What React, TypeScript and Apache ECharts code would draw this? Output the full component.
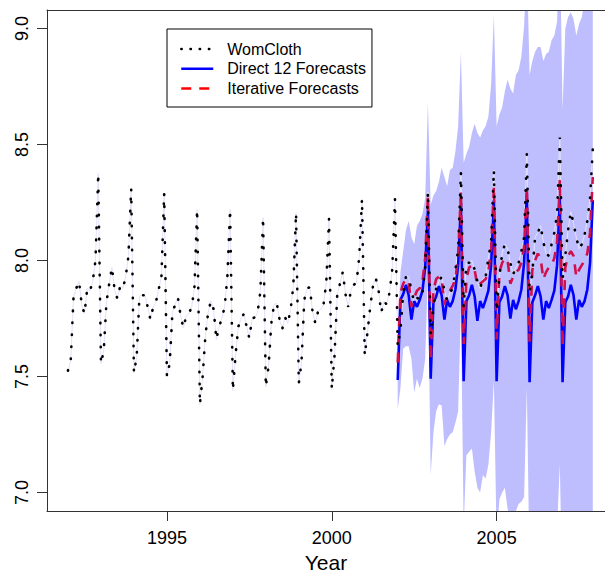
import React, { useEffect, useRef } from "react";
import * as echarts from "echarts";

const START_YEAR = 1992;
const FORECAST_START = 2002;

// monthly log values, Jan 1992 .. Dec 2007
const womCloth = [
  7.525, 7.57, 7.84, 7.88, 7.91, 7.81, 7.77, 7.88, 7.87, 7.91, 8.0, 8.375,
  7.555, 7.61, 7.82, 7.9, 7.97, 7.87, 7.835, 7.89, 7.88, 7.93, 8.02, 8.31,
  7.515, 7.585, 7.845, 7.85, 7.85, 7.8, 7.745, 7.8, 7.82, 7.875, 7.93, 8.29,
  7.5, 7.555, 7.775, 7.81, 7.84, 7.76, 7.71, 7.76, 7.77, 7.8, 7.88, 8.22,
  7.38, 7.5, 7.675, 7.775, 7.825, 7.79, 7.66, 7.715, 7.75, 7.8, 7.93, 8.22,
  7.44, 7.595, 7.715, 7.75, 7.77, 7.715, 7.665, 7.75, 7.755, 7.775, 7.865, 8.185,
  7.455, 7.545, 7.73, 7.81, 7.815, 7.745, 7.705, 7.755, 7.73, 7.785, 7.89, 8.205,
  7.47, 7.565, 7.83, 7.88, 7.885, 7.78, 7.73, 7.78, 7.79, 7.81, 7.905, 8.18,
  7.445, 7.59, 7.855, 7.9, 7.95, 7.855, 7.8, 7.875, 7.895, 7.905, 8.015, 8.265,
  7.59, 7.69, 7.8, 7.89, 7.925, 7.875, 7.775, 7.825, 7.81, 7.86, 7.96, 8.265,
  7.63, 7.7, 7.86, 7.93, 7.93, 7.87, 7.82, 7.84, 7.83, 7.86, 7.97, 8.295,
  7.68, 7.8, 7.88, 7.91, 7.93, 7.87, 7.83, 7.86, 7.88, 7.96, 8.05, 8.38,
  7.8, 7.99, 7.99, 8.0, 7.96, 7.91, 7.88, 7.92, 7.93, 8.01, 8.08, 8.39,
  7.78, 7.93, 8.03, 8.07, 8.05, 7.99, 7.94, 7.97, 7.99, 8.04, 8.1, 8.46,
  7.86, 7.95, 8.1, 8.12, 8.15, 8.08, 8.03, 8.02, 8.07, 8.12, 8.2, 8.53,
  7.92, 8.02, 8.13, 8.21, 8.16, 8.1, 8.05, 8.07, 8.11, 8.17, 8.27, 8.48,
];

// forecasts, Jan 2002 .. Dec 2007
const direct12 = [
  7.485, 7.83, 7.855, 7.895, 7.85, 7.745, 7.825, 7.8, 7.83, 7.87, 7.97, 8.22,
  7.49, 7.82, 7.845, 7.89, 7.85, 7.745, 7.83, 7.8, 7.825, 7.875, 7.98, 8.25,
  7.48, 7.825, 7.85, 7.895, 7.845, 7.74, 7.825, 7.795, 7.83, 7.87, 7.98, 8.26,
  7.48, 7.82, 7.845, 7.89, 7.85, 7.75, 7.83, 7.79, 7.825, 7.875, 7.99, 8.29,
  7.475, 7.82, 7.85, 7.89, 7.845, 7.745, 7.825, 7.795, 7.83, 7.87, 7.98, 8.27,
  7.475, 7.82, 7.845, 7.895, 7.85, 7.745, 7.83, 7.8, 7.825, 7.875, 7.99, 8.26,
];

const iterative = [
  7.56, 7.86, 7.9, 7.92, 7.91, 7.8, 7.84, 7.87, 7.88, 7.91, 8.01, 8.28,
  7.57, 7.87, 7.92, 7.93, 7.92, 7.81, 7.85, 7.87, 7.89, 7.92, 8.02, 8.3,
  7.64, 7.92, 7.97, 7.98, 7.96, 7.89, 7.9, 7.91, 7.92, 7.95, 8.05, 8.32,
  7.66, 7.95, 7.99, 8.01, 8.0, 7.9, 7.93, 7.95, 7.96, 7.99, 8.06, 8.32,
  7.65, 7.96, 8.0, 8.03, 8.01, 7.92, 7.95, 7.97, 7.98, 8.01, 8.08, 8.35,
  7.63, 7.97, 8.02, 8.04, 8.02, 7.93, 7.96, 7.98, 8.0, 8.03, 8.12, 8.36,
];

const bandUpper = [
  7.7, 7.95, 8.04, 8.13, 8.17, 8.1, 8.07, 8.15, 8.17, 8.2, 8.27, 8.68,
  8.24, 8.28, 8.3, 8.34, 8.4, 8.36, 8.32, 8.39, 8.4, 8.47, 8.58, 8.9,
  8.42, 8.46, 8.49, 8.55, 8.59, 8.55, 8.53, 8.56, 8.58, 8.62, 8.76, 9.06,
  8.58, 8.63, 8.66, 8.73, 8.78, 8.74, 8.72, 8.8, 8.82, 8.88, 9.01, 9.3,
  8.8, 8.86, 8.9, 8.92, 8.92, 8.86, 8.89, 8.9, 8.95, 8.97, 9.03, 9.4,
  8.65, 9.0, 9.05, 9.07, 9.04, 8.97, 9.02, 9.05, 9.12, 9.15, 9.2, 9.5,
];

const bandLower = [
  7.36, 7.45, 7.62, 7.63, 7.63, 7.575, 7.43, 7.49, 7.45, 7.49, 7.575, 7.95,
  7.075, 7.26, 7.35, 7.38, 7.375, 7.2, 7.23, 7.25, 7.26, 7.3, 7.35, 7.8,
  6.85, 7.16, 7.175, 7.19, 7.09, 7.02, 7.0, 7.075, 7.06, 7.12, 7.26, 7.48,
  6.8, 6.97, 7.0, 7.02, 6.93, 6.88, 6.86, 6.92, 6.95, 6.96, 6.98, 7.45,
  6.65, 6.8, 6.82, 6.84, 6.78, 6.72, 6.7, 6.75, 6.78, 6.8, 6.85, 7.12,
  6.5, 6.65, 6.68, 6.7, 6.62, 6.55, 6.52, 6.58, 6.6, 6.62, 6.7, 6.9,
];

const xTicks = [1995, 2000, 2005];
const yTicks = [7.0, 7.5, 8.0, 8.5, 9.0];

const FONT = "'Liberation Sans', Arial, Helvetica, sans-serif";

export default function App() {
  const ref = useRef<HTMLDivElement>(null);

  useEffect(() => {
    document.body.style.margin = "0";
    const chart = echarts.init(ref.current as HTMLDivElement, null, { renderer: "svg" });
    const at = (start: number, i: number) => start + i / 12;
    const wom = womCloth.map((v, i) => [at(START_YEAR, i), v]);
    const dir = direct12.map((v, i) => [at(FORECAST_START, i), v]);
    const itr = iterative.map((v, i) => [at(FORECAST_START, i), v]);
    const band = bandLower.map((v, i) => [at(FORECAST_START, i), v, bandUpper[i]]);

    // the frame is cut by the right edge of the picture
    const xMin = 1991.363;
    const xMax = 2008.287;
    const axisColor = "#333";

    chart.setOption({
      animation: false,
      grid: { left: 47, top: 10, right: 0, height: 506, show: false },
      legend: {
        orient: "vertical",
        left: 167,
        top: 29,
        padding: [12, 6, 10.6, 13],
        itemWidth: 32,
        itemHeight: 14,
        itemGap: 3.7,
        backgroundColor: "#fff",
        borderColor: "#000",
        borderWidth: 1,
        borderRadius: 0,
        itemStyle: { opacity: 0 },
        textStyle: { fontSize: 16, lineHeight: 16, fontFamily: FONT, color: "#000", padding: [0, 0, 0, 9] },
        data: [
          { name: "WomCloth", lineStyle: { color: "#000", width: 2.4, type: [0.5, 8.7], cap: "round" } },
          { name: "Direct 12 Forecasts", lineStyle: { color: "#0000ff", width: 2.5, type: "solid" } },
          { name: "Iterative Forecasts", lineStyle: { color: "#ff0000", width: 2.5, type: [10, 8] } },
        ],
      },
      xAxis: [
        {
          type: "value",
          min: xMin,
          max: xMax,
          z: 10,
          axisLine: { show: true, onZero: false, lineStyle: { color: axisColor, width: 1 } },
          axisTick: { show: true, inside: false, length: 10, customValues: xTicks, lineStyle: { color: axisColor } },
          axisLabel: {
            show: true,
            customValues: xTicks,
            margin: 17.5,
            fontSize: 18,
            fontFamily: FONT,
            color: "#000",
            formatter: (v: number) => String(Math.round(v)),
          },
          splitLine: { show: false },
          name: "Year",
          nameLocation: "middle",
          nameGap: 41,
          nameTextStyle: { fontSize: 21, fontFamily: FONT, color: "#000" },
        },
        {
          type: "value",
          position: "top",
          min: xMin,
          max: xMax,
          z: 10,
          axisLine: { show: true, onZero: false, lineStyle: { color: axisColor, width: 1 } },
          axisTick: { show: false },
          axisLabel: { show: false },
          splitLine: { show: false },
        },
      ],
      yAxis: {
        type: "value",
        min: 6.92,
        max: 9.08,
        z: 10,
        axisLine: { show: true, onZero: false, lineStyle: { color: axisColor, width: 1 } },
        axisTick: { show: true, inside: false, length: 10, customValues: yTicks, lineStyle: { color: axisColor } },
        axisLabel: {
          show: true,
          customValues: yTicks,
          rotate: 90,
          margin: 16.5,
          fontSize: 18,
          fontFamily: FONT,
          color: "#000",
          formatter: (v: number) => v.toFixed(1),
        },
        splitLine: { show: false },
      },
      series: [
        {
          name: "band",
          type: "custom",
          data: band,
          encode: { x: 0, y: [1, 2] },
          clip: true,
          silent: true,
          z: 1,
          renderItem: (params: any, api: any) => {
            if (params.dataIndex !== 0) return null;
            const top = band.map((d) => api.coord([d[0], d[2]]));
            const bottom = band.map((d) => api.coord([d[0], d[1]])).reverse();
            return {
              type: "polygon",
              shape: { points: top.concat(bottom) },
              style: { fill: "#bebeff", stroke: "none" },
            };
          },
        },
        {
          name: "womFaint",
          type: "line",
          data: wom,
          symbol: "none",
          lineStyle: { color: "#e2e2fb", width: 1 },
          silent: true,
          z: 2,
        },
        {
          name: "Direct 12 Forecasts",
          type: "line",
          data: dir,
          symbol: "none",
          lineStyle: { color: "#0000ff", width: 2.6 },
          z: 3,
        },
        {
          name: "Iterative Forecasts",
          type: "line",
          data: itr,
          symbol: "none",
          lineStyle: { color: "#d0104a", width: 2.6, type: [10, 8] },
          z: 4,
        },
        {
          name: "WomCloth",
          type: "line",
          data: wom,
          symbol: "none",
          lineStyle: { color: "#000", width: 2.6, type: [0.5, 11.5], cap: "round" },
          z: 5,
        },
      ],
    });

    return () => chart.dispose();
  }, []);

  return <div ref={ref} style={{ width: 605, height: 578 }} />;
}
